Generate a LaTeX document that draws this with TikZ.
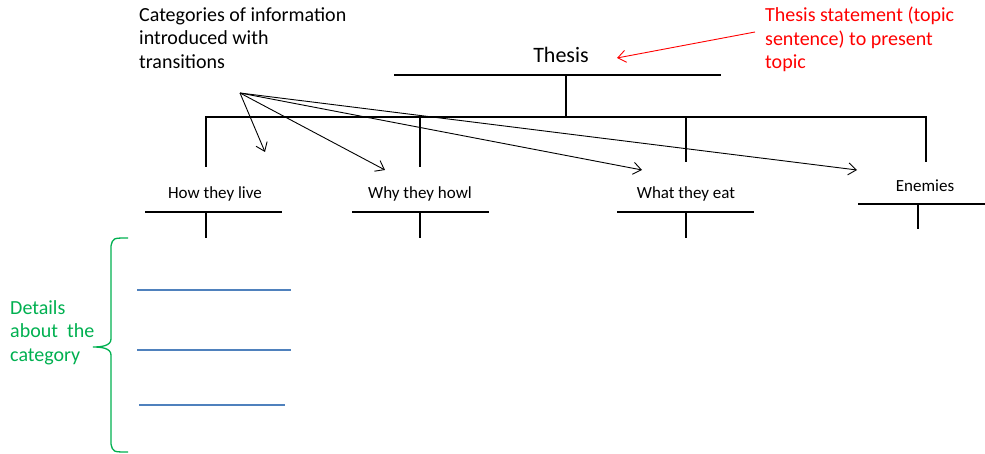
\documentclass[tikz,border=0pt]{standalone}
\usepackage{fontspec}
\setmainfont{Carlito}
\usetikzlibrary{arrows.meta}
\definecolor{notered}{RGB}{255,0,0}
\definecolor{notegreen}{RGB}{0,176,80}
\definecolor{lineblue}{RGB}{79,129,189}
\tikzset{
  tree/.style={line width=2.8pt, line cap=butt},
  pointer/.style={line width=0.9pt, -{Straight Barb[length=8pt,width=12pt]}},
  lbl/.style={inner sep=0pt, anchor=center, font=\fontsize{17}{20}\selectfont},
  note/.style={inner sep=0pt, anchor=north west, align=left, font=\fontsize{20}{23.5}\selectfont},
  detail/.style={lineblue, line width=1.2pt},
}
\begin{document}
\begin{tikzpicture}[x=1pt,y=-1pt]
\useasboundingbox (0,0) rectangle (985,454);

% thesis level
\node[inner sep=0pt, font=\fontsize{22}{26}\selectfont] (thesis) at (561,55) {Thesis};
\coordinate (thL) at (394,75);
\coordinate (thR) at (721,75);
\coordinate (thM) at (566,75);
\coordinate (bus) at (566,117);
\draw[tree] (thL) -- (thR);
\draw[tree] (thM) -- (bus);

% horizontal bus with drops to the categories
\coordinate (busL) at (206,117);
\coordinate (busR) at (926,117);
\draw[tree] (206,167) -- (busL) -- (busR) -- (926,162);
\draw[tree] (420,117) -- (420,167);
\draw[tree] (686,117) -- (686,162);

% categories
\node[lbl] (live) at (215,194) {How they live};
\node[lbl] (howl) at (420,194) {Why they howl};
\node[lbl] (eat)  at (686,194) {What they eat};
\node[lbl] (enem) at (925,186) {Enemies};

\draw[tree] (145,212) -- (282,212);
\draw[tree] (206,212) -- (206,238);
\draw[tree] (352,212) -- (489,212);
\draw[tree] (420,212) -- (420,238);
\draw[tree] (617,212) -- (754,212);
\draw[tree] (686,212) -- (686,238);
\draw[tree] (858,204) -- (985,204);
\draw[tree] (918,204) -- (918,229);

% note on categories
\node[note] (cats) at (139,7) {Categories of information\\introduced with\\transitions};
\coordinate (src) at (240,93);
\coordinate (t1) at (265,152);
\coordinate (t2) at (385,170);
\coordinate (t3) at (642,170);
\coordinate (t4) at (857,170);
\draw[pointer] (src) -- (t1);
\draw[pointer] (src) -- (t2);
\draw[pointer] (src) -- (t3);
\draw[pointer] (src) -- (t4);

% note on thesis
\node[note, text=notered] (thnote) at (765,7) {Thesis statement (topic\\sentence) to present\\topic};
\coordinate (rs) at (755,32);
\coordinate (rt) at (617,58);
\draw[pointer, notered] (rs) -- (rt);

% detail lines
\draw[detail] (137,290) -- (291,290);
\draw[detail] (137,350) -- (291,350);
\draw[detail] (139,405) -- (285,405);

% brace and note on details
\draw[notegreen, line width=1.3pt]
  (128,238) .. controls (113,238) .. (111,246) -- (111,339)
  .. controls (111,346) and (101,347) .. (93,347)
  .. controls (101,347) and (111,348) .. (111,355) -- (111,444)
  .. controls (113,452) .. (128,452);
\node[note, text=notegreen] (dnote) at (10,300) {Details\\about\ \ the\\category};
\end{tikzpicture}
\end{document}
